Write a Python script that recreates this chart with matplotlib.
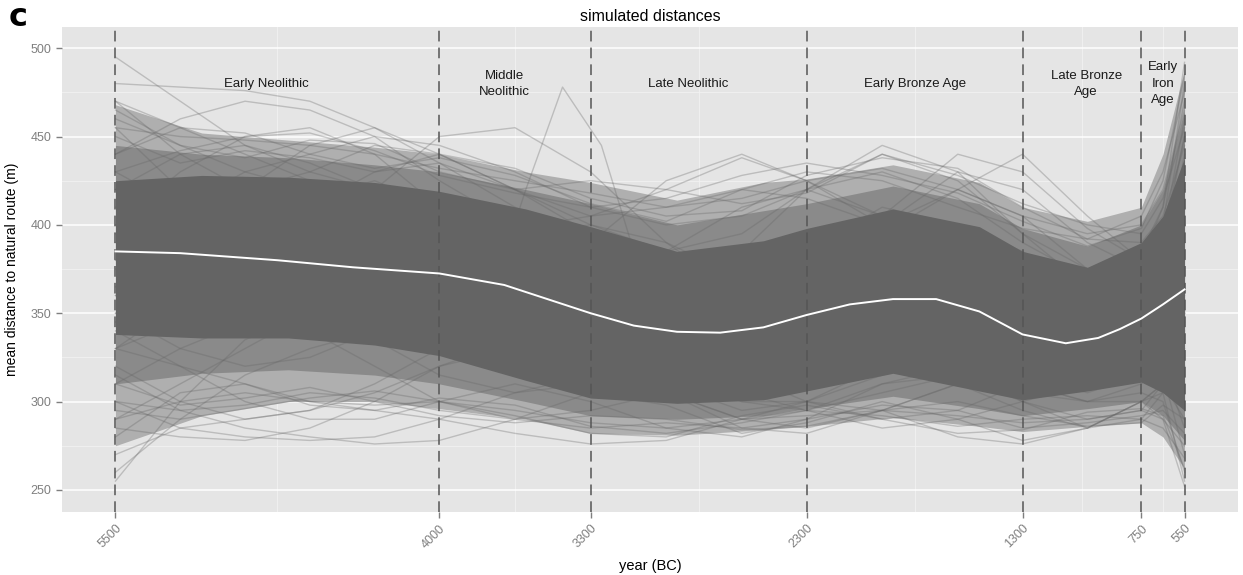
import numpy as np
import matplotlib
matplotlib.use("Agg")
import matplotlib.pyplot as plt

plt.rcParams['font.family'] = ['Liberation Sans', 'DejaVu Sans']

# period boundaries (year BC) and labels
breaks = [5500, 4000, 3300, 2300, 1300, 750, 550]
period_names = ["Early Neolithic", "Middle\nNeolithic", "Late Neolithic",
                "Early Bronze Age", "Late Bronze\nAge", "Early\nIron\nAge"]
period_label_x = [4800, 3700, 2850, 1800, 1005, 650]
period_label_y = 480

# mean of all simulations (white line)
mean_years = [5500, 5200, 4750, 4400, 4000, 3700, 3500, 3300, 3100, 2900, 2700,
              2500, 2300, 2100, 1900, 1700, 1500, 1300, 1100, 950, 850, 750, 650, 550]
mean_vals = [385, 384, 380, 376, 372.5, 366, 358, 350, 343, 339.5, 339,
             342, 349, 355, 358, 358, 351, 338, 333, 336, 341, 347, 355, 363.5]

# density envelopes of the simulated lines
band_years = [5500, 5100, 4700, 4300, 4000, 3600, 3300, 2900, 2500, 2300,
              1900, 1500, 1300, 1000, 750, 650, 550]
outer_lo = [275, 292, 300, 300, 296, 290, 282, 281, 284, 286, 291, 286, 283, 286, 288, 280, 262]
outer_hi = [468, 452, 448, 444, 440, 430, 424, 414, 424, 426, 434, 424, 410, 402, 410, 440, 488]
mid_lo = [310, 316, 318, 315, 310, 300, 292, 290, 292, 296, 303, 296, 292, 296, 300, 292, 278]
mid_hi = [445, 440, 438, 434, 430, 420, 412, 400, 408, 412, 422, 412, 398, 388, 400, 420, 465]
core_lo = [338, 336, 336, 332, 326, 312, 302, 299, 301, 306, 316, 306, 301, 306, 311, 305, 295]
core_hi = [425, 428, 427, 424, 419, 409, 399, 385, 391, 398, 409, 399, 385, 376, 390, 405, 438]

# a sample of single simulated runs
run_years = [5500, 5200, 4900, 4600, 4300, 4000, 3650, 3300, 2950, 2600, 2300,
             1950, 1600, 1300, 1000, 750, 650, 550]
runs = [
    [495, 470, 445, 430, 420, 410, 395, 380, 365, 355, 360, 372, 380, 370, 355, 360, 375, 400],
    [480, 478, 476, 470, 455, 435, 410, 385, 360, 345, 350, 365, 375, 360, 345, 350, 365, 390],
    [470, 440, 420, 430, 445, 440, 420, 395, 370, 355, 365, 390, 400, 385, 360, 355, 375, 430],
    [455, 420, 395, 400, 420, 450, 455, 430, 390, 360, 365, 395, 420, 405, 375, 370, 395, 460],
    [440, 460, 470, 465, 450, 425, 400, 370, 350, 345, 365, 400, 430, 420, 390, 375, 400, 480],
    [420, 400, 395, 410, 430, 435, 420, 400, 385, 395, 420, 440, 425, 395, 375, 385, 410, 492],
    [400, 430, 450, 455, 440, 410, 380, 360, 350, 360, 385, 410, 400, 370, 350, 365, 390, 450],
    [380, 410, 430, 440, 450, 445, 430, 410, 400, 405, 420, 430, 415, 390, 370, 375, 385, 420],
    [360, 390, 420, 445, 455, 440, 420, 405, 410, 420, 415, 400, 385, 370, 360, 370, 380, 410],
    [430, 410, 405, 415, 425, 410, 385, 370, 385, 410, 420, 405, 385, 365, 355, 360, 370, 390],
    [390, 395, 400, 395, 385, 380, 370, 355, 345, 340, 350, 360, 360, 340, 330, 345, 355, 370],
    [350, 370, 385, 390, 380, 365, 355, 345, 335, 330, 340, 355, 365, 350, 335, 340, 350, 350],
    [410, 390, 375, 370, 375, 380, 375, 360, 340, 325, 330, 350, 360, 345, 330, 335, 345, 335],
    [255, 300, 335, 350, 355, 350, 340, 325, 310, 305, 315, 330, 335, 320, 310, 320, 330, 320],
    [260, 290, 315, 330, 340, 345, 340, 330, 315, 300, 300, 315, 330, 325, 310, 315, 325, 300],
    [270, 285, 290, 295, 305, 320, 330, 325, 305, 290, 295, 310, 320, 310, 300, 310, 320, 285],
    [285, 280, 278, 285, 300, 320, 335, 330, 310, 295, 300, 320, 330, 315, 305, 315, 315, 270],
    [300, 285, 280, 278, 280, 290, 305, 315, 305, 290, 285, 295, 310, 305, 300, 305, 300, 260],
    [320, 300, 290, 295, 310, 330, 340, 330, 305, 285, 282, 295, 310, 295, 285, 300, 305, 255],
    [310, 330, 345, 340, 320, 300, 290, 295, 305, 305, 295, 285, 290, 300, 310, 325, 330, 340],
    [340, 320, 300, 290, 290, 300, 310, 300, 285, 280, 290, 310, 315, 300, 290, 295, 310, 330],
    [330, 345, 355, 350, 335, 315, 305, 310, 320, 315, 300, 290, 295, 310, 315, 320, 330, 350],
    [290, 310, 330, 350, 365, 370, 360, 340, 320, 310, 315, 325, 320, 300, 285, 290, 305, 310],
    [350, 330, 320, 325, 340, 355, 360, 345, 320, 300, 295, 305, 315, 310, 300, 300, 310, 290],
    [460, 445, 430, 420, 410, 400, 395, 390, 380, 370, 375, 385, 375, 355, 345, 355, 370, 420],
    [375, 380, 390, 405, 415, 415, 405, 385, 365, 355, 360, 375, 385, 375, 355, 345, 355, 380],
    [400, 405, 410, 405, 395, 390, 395, 400, 390, 370, 355, 355, 365, 360, 350, 360, 375, 440],
    [420, 440, 445, 435, 420, 405, 385, 365, 355, 360, 380, 395, 385, 360, 335, 325, 335, 350],
    [365, 350, 355, 370, 390, 400, 390, 370, 355, 350, 360, 375, 370, 345, 325, 330, 345, 360],
    [395, 375, 365, 360, 360, 365, 365, 355, 345, 350, 365, 375, 360, 335, 320, 325, 340, 345],
    [345, 365, 380, 375, 360, 350, 350, 345, 330, 320, 330, 345, 345, 330, 320, 330, 345, 375],
    [330, 355, 375, 390, 395, 390, 375, 350, 330, 325, 335, 350, 345, 325, 315, 330, 350, 400],
    [315, 295, 285, 280, 276, 278, 290, 305, 298, 282, 288, 300, 290, 278, 285, 300, 290, 252],
    [470, 455, 440, 425, 412, 402, 398, 405, 420, 438, 425, 400, 420, 440, 405, 380, 410, 470],
    [455, 450, 448, 445, 440, 432, 425, 418, 410, 415, 425, 432, 420, 405, 395, 400, 420, 465],
    [440, 455, 452, 440, 432, 438, 428, 412, 402, 420, 430, 425, 410, 398, 392, 405, 430, 475],
    [465, 445, 438, 448, 446, 430, 420, 425, 420, 412, 418, 440, 428, 412, 400, 395, 415, 455],
    [430, 442, 450, 452, 442, 428, 418, 410, 415, 428, 435, 428, 418, 402, 388, 398, 425, 485],
    [450, 435, 442, 438, 430, 440, 432, 415, 405, 408, 428, 438, 432, 410, 392, 390, 405, 445],
    [290, 300, 305, 300, 298, 300, 295, 288, 285, 290, 292, 295, 292, 288, 290, 295, 290, 275],
    [300, 295, 298, 305, 302, 295, 290, 285, 288, 285, 290, 298, 295, 285, 288, 292, 295, 282],
    [280, 305, 310, 298, 295, 302, 298, 286, 282, 288, 295, 292, 286, 290, 292, 290, 285, 268],
    [310, 298, 302, 308, 300, 292, 288, 292, 290, 284, 286, 295, 300, 292, 286, 288, 298, 290],
    [295, 290, 296, 302, 306, 300, 292, 282, 280, 292, 298, 290, 282, 284, 294, 296, 292, 262],
    [330, 320, 310, 300, 295, 290, 282, 276, 278, 290, 300, 295, 280, 276, 285, 300, 310, 320],
    [380, 370, 365, 372, 385, 395, 390, 372, 365, 385, 420, 445, 430, 395, 365, 360, 375, 420],
    [360, 372, 385, 398, 402, 395, 380, 390, 425, 440, 425, 405, 440, 430, 398, 380, 395, 450],
]
# the lone high run in the Middle Neolithic
spike_years = [4000, 3800, 3600, 3430, 3250, 3050, 2850]
spike_vals = [340, 345, 420, 478, 445, 365, 330]

fig = plt.figure(figsize=(12.43, 5.75), dpi=100)
ax = fig.add_axes([62 / 1243, 1 - 512 / 575, (1238 - 62) / 1243, (512 - 27) / 575])
ax.set_facecolor('#E5E5E5')

# grid
for y in [275, 325, 375, 425, 475]:
    ax.axhline(y, color='#F2F2F2', lw=0.6, zorder=0)
for x in [4750, 3650, 2800, 1800, 1025, 650]:
    ax.axvline(x, color='#F2F2F2', lw=0.6, zorder=0)
for y in [250, 300, 350, 400, 450, 500]:
    ax.axhline(y, color='white', lw=1.1, zorder=0)

ax.fill_between(band_years, outer_lo, outer_hi, color='#AFAFAF', lw=0, zorder=1)
ax.fill_between(band_years, mid_lo, mid_hi, color='#8A8A8A', lw=0, zorder=1)
ax.fill_between(band_years, core_lo, core_hi, color='#646464', lw=0, zorder=1)

for r in runs:
    ax.plot(run_years, r, color='#666666', alpha=0.32, lw=1.0, zorder=2)
ax.plot(spike_years, spike_vals, color='#666666', alpha=0.32, lw=1.0, zorder=2)

ax.plot(mean_years, mean_vals, color='white', lw=1.4, zorder=4)

for b in breaks:
    ax.axvline(b, color='#555555', lw=1.1, ls=(0, (7, 4)), zorder=3)

for name, x in zip(period_names, period_label_x):
    ax.text(x, period_label_y, name, ha='center', va='center', fontsize=9.5,
            color='#1A1A1A', linespacing=1.45, zorder=5)

ax.set_xlim(5747.5, 302.5)
ax.set_ylim(237.5, 512)
ax.set_xticks(breaks)
ax.set_xticklabels([str(b) for b in breaks], rotation=45, ha='right', va='top',
                   rotation_mode='anchor')
ax.set_yticks([250, 300, 350, 400, 450, 500])
ax.tick_params(colors='#7F7F7F', labelcolor='#7F7F7F', labelsize=9, length=4, width=1)
for s in ax.spines.values():
    s.set_visible(False)

ax.set_title("simulated distances", fontsize=11.5, pad=4)
ax.set_xlabel("year (BC)", fontsize=10.5, labelpad=6)
ax.set_ylabel("mean distance to natural route (m)", fontsize=10, labelpad=8)

fig.text(9 / 1243, 1 - 18 / 575, "c", fontsize=23, fontweight='bold', va='center', ha='left',
         family='DejaVu Sans')

fig.savefig("out.png", dpi=100)
